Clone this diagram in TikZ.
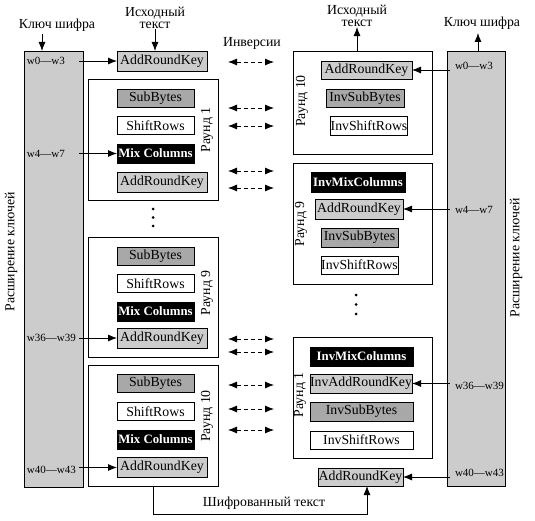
\documentclass[tikz,border=0pt]{standalone}
\usepackage{fontspec}
\setmainfont{Liberation Serif}
\usetikzlibrary{arrows.meta}

\definecolor{keygray}{gray}{0.8}
\definecolor{subgray}{gray}{0.66}

\begin{document}
\begin{tikzpicture}[x=1pt,y=-1pt,line width=0.8pt,
    font=\fontsize{13.8}{12.5}\selectfont,
    every node/.style={outer sep=0pt,inner sep=0pt},
    keycol/.style={draw,fill=keygray},
    arkbox/.style={draw,fill=keygray,minimum width=90pt,minimum height=20pt},
    subbox/.style={draw,fill=subgray,minimum width=77pt,minimum height=18pt},
    shiftbox/.style={draw,fill=white,minimum width=77pt,minimum height=18pt},
    mixbox/.style={draw,fill=black,text=white,font=\fontsize{12.8}{14}\selectfont\bfseries,
                minimum width=77pt,minimum height=19pt},
    rndbox/.style={draw,minimum width=130pt},
    rlab/.style={rotate=90},
    wlab/.style={font=\fontsize{11}{12}\selectfont,anchor=west},
    keyarr/.style={-{Latex[length=9pt,width=7pt]}},
    invarr/.style={{Latex[length=9pt,width=7pt]}-{Latex[length=9pt,width=7pt]},
                   dash pattern=on 4pt off 3pt}]

            \useasboundingbox (0,0) rectangle (535,521);

            % key expansion columns
            \node[keycol,minimum width=59pt,minimum height=436pt] (kl) at (53.5,269) {};
            \node[keycol,minimum width=58pt,minimum height=435pt] (kr) at (476,268.5) {};
            \node[rlab] (kexl) at (11,252) {Расширение ключей};
            \node[rlab] (kexr) at (516,258) {Расширение ключей};

            % top labels
            \node (keyl) at (57,25) {Ключ шифра};
            \node[align=center] (ptl) at (155,18) {Исходный\\текст};
            \node[align=center] (ptr) at (357,16) {Исходный\\текст};
            \node (keyr) at (482,23) {Ключ шифра};
            \node (inv) at (252,43) {Инверсии};

            % cipher, left
            \node[arkbox] (ark0) at (162,61) {AddRoundKey};

            \node[rndbox,minimum height=121pt] (r1) at (153,139.5) {};
            \node[subbox] (sb1) at (155.5,98) {SubBytes};
            \node[shiftbox] (sr1) at (155.5,125.5) {ShiftRows};
            \node[mixbox] (mc1) at (155.5,153.5) {Mix Columns};
            \node[arkbox] (ark1) at (162,182) {AddRoundKey};
            \node[rlab] (r1lab) at (207,130) {Раунд 1};

            \node[rndbox,minimum height=120pt] (r9) at (153,297) {};
            \node[subbox] (sb9) at (155.5,256) {SubBytes};
            \node[shiftbox] (sr9) at (155.5,283.5) {ShiftRows};
            \node[mixbox] (mc9) at (155.5,311.5) {Mix Columns};
            \node[arkbox] (ark9) at (162,338) {AddRoundKey};
            \node[rlab] (r9lab) at (207,293) {Раунд 9};

            \node[rndbox,minimum height=121pt] (r10) at (153,425.5) {};
            \node[subbox] (sb10) at (155.5,383.5) {SubBytes};
            \node[shiftbox] (sr10) at (155.5,411.5) {ShiftRows};
            \node[mixbox] (mc10) at (155.5,439.5) {Mix Columns};
            \node[arkbox] (ark10) at (162,467.5) {AddRoundKey};
            \node[rlab] (r10lab) at (207,416) {Раунд 10};

            \fill (153,209) circle (1.5pt);
            \fill (153,217.5) circle (1.5pt);
            \fill (153,226) circle (1.5pt);

            % inverse cipher, right
            \node[rndbox,minimum width=139pt,minimum height=103pt] (q10) at (362.5,102.5) {};
            \node[arkbox,minimum width=91pt,minimum height=18pt] (qark10) at (366.5,70) {AddRoundKey};
            \node[subbox,minimum width=78pt] (isb10) at (365,98) {InvSubBytes};
            \node[shiftbox,minimum width=76pt,minimum height=19pt] (isr10) at (369,125.5) {InvShiftRows};
            \node[rlab] (q10lab) at (302,101) {Раунд 10};

            \node[rndbox,minimum width=139pt,minimum height=121pt] (q9) at (362.5,223.5) {};
            \node[mixbox,minimum width=94pt,minimum height=20pt] (imc9) at (358,182) {InvMixColumns};
            \node[arkbox,minimum width=88pt] (qark9) at (359,209) {AddRoundKey};
            \node[subbox,minimum height=19pt] (isb9) at (359.5,237.5) {InvSubBytes};
            \node[shiftbox] (isr9) at (359.5,265) {InvShiftRows};
            \node[rlab] (q9lab) at (301,224) {Раунд 9};

            \fill (356,295) circle (1.5pt);
            \fill (356,304.5) circle (1.5pt);
            \fill (356,314) circle (1.5pt);

            \node[rndbox,minimum width=139pt,minimum height=121pt] (q1) at (362.5,397.5) {};
            \node[mixbox,minimum width=103pt] (imc1) at (361.5,356.5) {InvMixColumns};
            \node[arkbox,minimum width=102pt,minimum height=19pt] (iark1) at (361,383.5) {InvAddRoundKey};
            \node[subbox,minimum width=103pt,minimum height=19pt] (isb1) at (361.5,411.5) {InvSubBytes};
            \node[shiftbox,minimum width=103pt] (isr1) at (361.5,440) {InvShiftRows};
            \node[rlab] (q1lab) at (300,395) {Раунд 1};

            \node[arkbox,minimum width=85pt,minimum height=18pt] (fark) at (360.5,477) {AddRoundKey};

            % round keys
            \node[wlab] (w0l) at (27,61) {w0—w3};
            \node[wlab] (w4l) at (27,153.5) {w4—w7};
            \node[wlab] (w36l) at (27,338) {w36—w39};
            \node[wlab] (w40l) at (27,470) {w40—w43};
            \node[wlab] (w0r) at (455,66) {w0—w3};
            \node[wlab] (w4r) at (455,210) {w4—w7};
            \node[wlab] (w36r) at (455,386) {w36—w39};
            \node[wlab] (w40r) at (455,473) {w40—w43};

            \coordinate (klr) at (79,0);
            \coordinate (krl) at (450,0);
            \draw[keyarr] (klr |- ark0.west) -- (ark0.west);
            \draw[keyarr] (klr |- mc1.west) -- (mc1.west);
            \draw[keyarr] (klr |- ark9.west) -- (ark9.west);
            \draw[keyarr] (klr |- ark10.west) -- (ark10.west);
            \draw[keyarr] (krl |- qark10.east) -- (qark10.east);
            \draw[keyarr] (krl |- qark9.east) -- (qark9.east);
            \draw[keyarr] (krl |- iark1.east) -- (iark1.east);
            \draw[keyarr] (krl |- fark.east) -- (fark.east);

            % inputs and outputs
            \coordinate (kin) at (42,34);
            \coordinate (kout) at (478,33);
            \draw[keyarr] (kin) -- (kin |- kl.north);
            \draw[keyarr] (kout |- kr.north) -- (kout);
            \draw[keyarr] (ptl.south) -- (ptl.south |- ark0.north);
            \draw[keyarr] (ptr.south |- q10.north) -- (ptr.south);

            \coordinate (ctx) at (367,514);
            \draw[keyarr] (r10.south) |- (ctx) -- (ctx |- fark.south);
            \node (ct) at (264,503) {Шифрованный текст};

            % inversions
            \foreach \y [count=\i] in {62,108,126,171,188,339,352,385,409,430} {
                \coordinate (invl\i) at (228,\y);
                \coordinate (invr\i) at (274,\y);
                \draw[invarr] (invl\i) -- (invr\i);
            }
        \end{tikzpicture}
\end{document}
